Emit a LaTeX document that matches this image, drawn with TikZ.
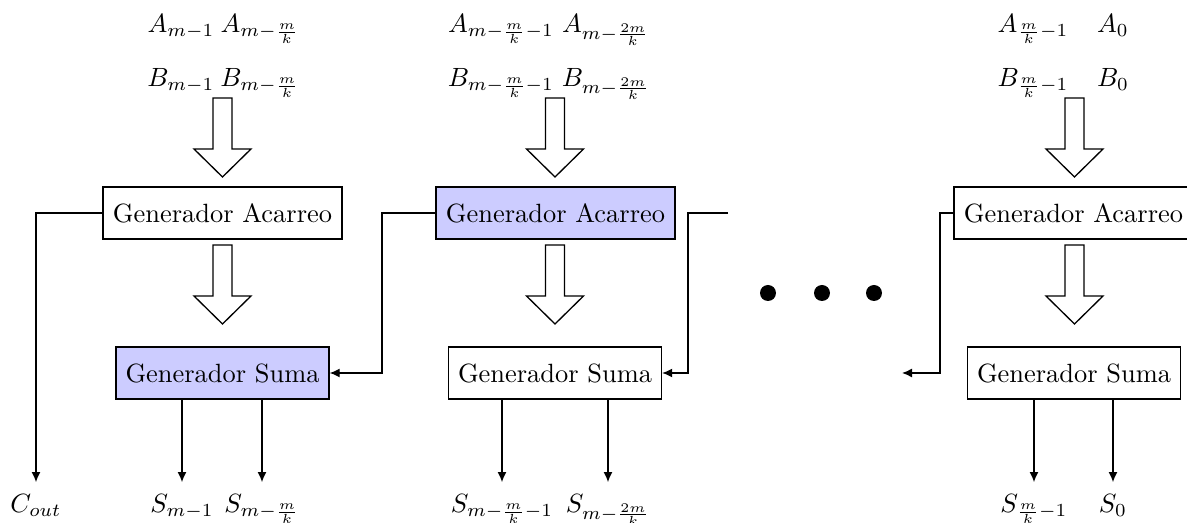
\documentclass[tikz,border=0pt]{standalone}
\usetikzlibrary{arrows.meta}
\newcommand\hollowarr[2]{%
  \draw[fill=white] (#1-9.5,#2) -- (#1+9.5,#2) -- (#1+9.5,#2+51) -- (#1+28.5,#2+51)
    -- (#1,#2+79) -- (#1-28.5,#2+51) -- (#1-9.5,#2+51) -- cycle;}
\begin{document}
\begin{tikzpicture}[x=0.3788pt,y=-0.3788pt,line width=0.5pt,
  accbox/.style={draw,minimum width=90.5pt,minimum height=19.7pt,inner xsep=3pt},
  sumbox/.style={draw,minimum width=80.7pt,minimum height=19.7pt,inner xsep=3pt},
  hl/.style={fill=blue!20},
  toplbl/.style={anchor=base,inner sep=0pt},
  botlbl/.style={anchor=base,inner xsep=0pt,inner ysep=4.6pt},
  conn/.style={-{Latex[length=3.8pt,width=3.4pt]}}]
\useasboundingbox (0,0) rectangle (1187,523);

% column 1
\node[toplbl] (a1a) at (181,33) {$A_{m-1}$};
\node[toplbl] (a1b) at (260,33) {$A_{m-\frac{m}{k}}$};
\node[toplbl] (b1a) at (181,87) {$B_{m-1}$};
\node[toplbl] (b1b) at (260,87) {$B_{m-\frac{m}{k}}$};
\hollowarr{222.5}{98}
\node[accbox] (acc1) at (222.5,213) {Generador Acarreo};
\hollowarr{222.5}{245}
\node[sumbox,hl] (sum1) at (222.5,373) {Generador Suma};
\node[botlbl] (cout) at (36,513) {$C_{out}$};
\node[botlbl] (s1a) at (182,513) {$S_{m-1}$};
\node[botlbl] (s1b) at (262,513) {$S_{m-\frac{m}{k}}$};
\draw[conn] (acc1.west) -| (cout.north);
\draw[conn] (s1a.north |- sum1.south) -- (s1a.north);
\draw[conn] (s1b.north |- sum1.south) -- (s1b.north);

% column 2
\node[toplbl] (a2a) at (501,33) {$A_{m-\frac{m}{k}-1}$};
\node[toplbl] (a2b) at (606,33) {$A_{m-\frac{2m}{k}}$};
\node[toplbl] (b2a) at (501,87) {$B_{m-\frac{m}{k}-1}$};
\node[toplbl] (b2b) at (606,87) {$B_{m-\frac{2m}{k}}$};
\hollowarr{555}{98}
\node[accbox,hl] (acc2) at (555.5,213) {Generador Acarreo};
\hollowarr{555}{245}
\node[sumbox] (sum2) at (555,373) {Generador Suma};
\node[botlbl] (s2a) at (502,513) {$S_{m-\frac{m}{k}-1}$};
\node[botlbl] (s2b) at (608,513) {$S_{m-\frac{2m}{k}}$};
\draw[conn] (s2a.north |- sum2.south) -- (s2a.north);
\draw[conn] (s2b.north |- sum2.south) -- (s2b.north);
\coordinate (k1) at (382,213);
\draw[conn] (acc2.west) -- (k1) |- (sum1.east);
\coordinate (f2) at (728,213);
\coordinate (k2) at (688,213);
\draw[conn] (f2) -- (k2) |- (sum2.east);

% dots
\fill (768,293) circle[radius=3.03pt];
\fill (822,293) circle[radius=3.03pt];
\fill (874,293) circle[radius=3.03pt];

% column 3
\node[toplbl] (a3a) at (1033,33) {$A_{\frac{m}{k}-1}$};
\node[toplbl] (a3b) at (1113,33) {$A_0$};
\node[toplbl] (b3a) at (1033,87) {$B_{\frac{m}{k}-1}$};
\node[toplbl] (b3b) at (1113,87) {$B_0$};
\hollowarr{1074.5}{98}
\node[accbox] (acc3) at (1073.5,213) {Generador Acarreo};
\hollowarr{1074.5}{245}
\node[sumbox] (sum3) at (1074,373) {Generador Suma};
\node[botlbl] (s3a) at (1034,513) {$S_{\frac{m}{k}-1}$};
\node[botlbl] (s3b) at (1113,513) {$S_0$};
\draw[conn] (s3a.north |- sum3.south) -- (s3a.north);
\draw[conn] (s3b.north |- sum3.south) -- (s3b.north);
\coordinate (k3) at (940,213);
\coordinate (f3) at (902,373);
\draw[conn] (acc3.west) -- (k3) |- (f3);
\end{tikzpicture}
\end{document}
